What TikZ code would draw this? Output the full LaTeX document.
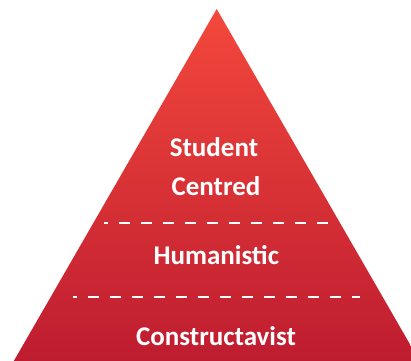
\documentclass[tikz,border=0pt]{standalone}
\usepackage{fontspec}
\setmainfont{Carlito}
\definecolor{topred}{RGB}{243,72,60}
\definecolor{botred}{RGB}{190,28,48}
\tikzset{
  lbl/.style={text=white, font=\bfseries\fontsize{27}{32}\selectfont, anchor=base, inner sep=0pt},
  sep/.style={draw=white, line width=2pt, dash pattern=on 11pt off 11pt, dash phase=7pt}
}
\begin{document}
\begin{tikzpicture}[x=1pt,y=-1pt]
\useasboundingbox (0,0) rectangle (411,360);
\clip (0,0) rectangle (411,360);
\shade[top color=topred, bottom color=botred] (216.7,9) -- (419.6,361) -- (13.8,361) -- cycle;
\coordinate (l1a) at (104,223);
\coordinate (l1b) at (328,223);
\coordinate (l2a) at (72.7,297);
\coordinate (l2b) at (360,297);
\draw[sep] (l1a) -- (l1b);
\draw[sep] (l2a) -- (l2b);
\node[lbl] (s) at (214,156) {Student};
\node[lbl] (c) at (216,195) {Centred};
\node[lbl] (h) at (216.3,264) {Humanistic};
\node[lbl] (k) at (216,345) {Constructavist};
\end{tikzpicture}
\end{document}
